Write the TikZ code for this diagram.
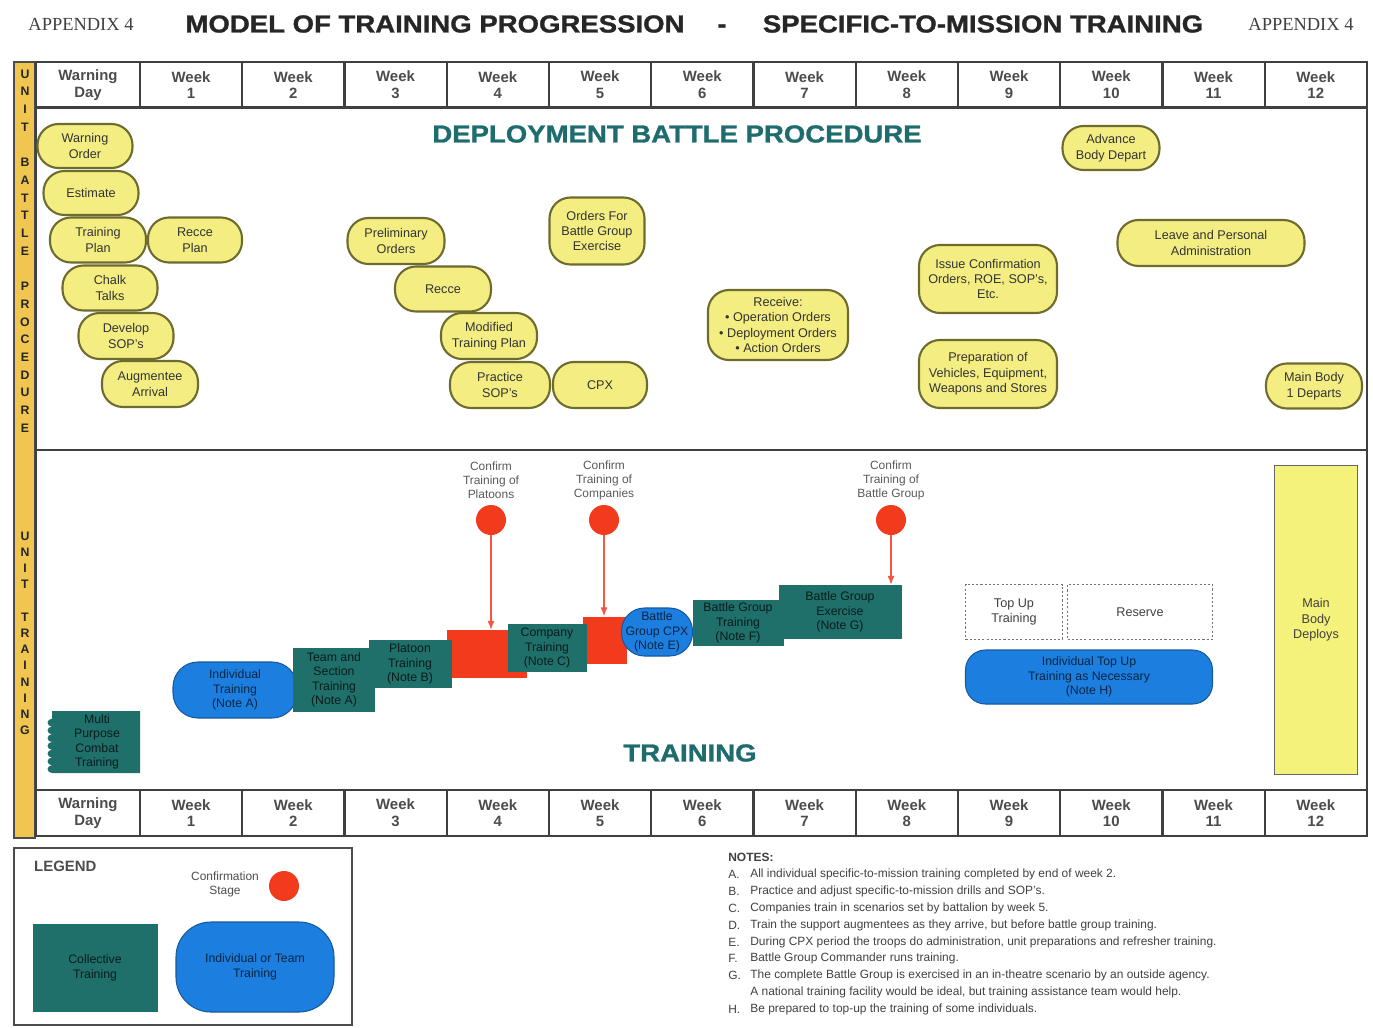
\documentclass[tikz,border=0pt]{standalone}
\usepackage{fontspec}
\setmainfont{Liberation Sans}
\newfontfamily\serifap{Liberation Serif}
\newfontfamily\heavyfont[FakeStretch=1.12, BoldFeatures={FakeBold=1.2}]{Liberation Sans}
\usetikzlibrary{positioning,arrows.meta,decorations.pathmorphing}
\definecolor{bpyellow}{HTML}{F4EE82}
\definecolor{bpedge}{HTML}{6E6B2E}
\definecolor{colteal}{HTML}{1F6F6B}
\definecolor{indblue}{HTML}{1C7FE0}
\definecolor{confred}{HTML}{F23B1D}
\definecolor{bargold}{HTML}{F0C550}
\definecolor{titleteal}{HTML}{1E6C6E}
\definecolor{mainyellow}{HTML}{F5F27C}
\tikzset{
  >=Latex,
  boxsize/.style 2 args={minimum width=#1*0.02cm, minimum height=#2*0.02cm},
  appx/.style={font=\serifap\fontsize{10.5}{12}\selectfont, text=black!75},
  headline/.style={font=\heavyfont\bfseries\fontsize{14}{16}\selectfont, text=black!85, inner sep=0pt},
  bigteal/.style={font=\heavyfont\bfseries\fontsize{14}{16}\selectfont, text=titleteal, inner sep=0pt},
  weekhead/.style={align=center, font=\bfseries\fontsize{8.5}{9.5}\selectfont, text=black!70},
  tablerule/.style={draw=black!75, line width=1.2pt},
  barletter/.style={font=\bfseries\fontsize{7}{7}\selectfont, text=black!85, inner sep=0pt},
  bubble/.style={draw=bpedge, line width=1.2pt, fill=bpyellow, rounded corners=0.42cm,
    align=center, inner sep=1pt, font=\fontsize{7.2}{8.8}\selectfont, text=black!80},
  colbox/.style={fill=colteal, align=center, inner sep=1pt,
    font=\fontsize{7}{8.2}\selectfont, text=colteal!25!black},
  indbox/.style={fill=indblue, draw=indblue!70!black, line width=0.6pt, align=center,
    inner sep=1pt, font=\fontsize{7}{8.2}\selectfont, text=indblue!30!black},
  redbox/.style={fill=confred, inner sep=0pt},
  confdot/.style={circle, fill=confred, minimum size=0.6cm, inner sep=0pt},
  confnote/.style={align=center, font=\fontsize{6.8}{8}\selectfont, text=black!65},
  confarrow/.style={draw=confred!85!white, line width=0.6pt, -{Latex[length=5pt,width=4pt]}},
  spare/.style={draw=black!55, dash pattern=on 1.2pt off 1.2pt, line width=0.9pt, align=center,
    font=\fontsize{7.2}{8.8}\selectfont, text=black!75},
  notetext/.style={anchor=west, font=\fontsize{6.8}{8}\selectfont, text=black!75, inner sep=0pt}
}
\begin{document}
\begin{tikzpicture}[x=0.02cm, y=-0.02cm]
\useasboundingbox (0,0) rectangle (1373,1028);
% heading
\node[appx] (app1) at (81,24) {APPENDIX 4};
\node[appx] (app2) at (1301,24) {APPENDIX 4};
\node[headline] (ttl1) at (435,24) {MODEL OF TRAINING PROGRESSION};
\node[headline, anchor=base] (ttldash) at (722,0 |- ttl1.base) {-};
\node[headline] (ttl2) at (983,24) {SPECIFIC-TO-MISSION TRAINING};

% side bar, panels and week rows
\draw[black!70, line width=0.8pt, fill=bargold] (14,62) rectangle (35,838);
\draw[tablerule] (36,107) rectangle (1367,450);
\draw[tablerule] (36,450) rectangle (1367,790);
\foreach \yy/\row in {62/top, 790/bot} {
  \draw[tablerule] (36,\yy) rectangle (1367,\yy+46);
  \node[weekhead] (\row0) at (88,\yy+23) {Warning\\Day};
  \foreach \i in {1,...,12} {
    \draw[tablerule] ({140+(\i-1)*102.25},\yy) -- ++(0,46);
    \node[weekhead] (\row\i) at ({191+(\i-1)*102.25},\yy+23) {Week\\\i};
  }
}
\foreach \ch/\n in {U/0,N/1,I/2,T/3,B/5,A/6,T/7,T/8,L/9,E/10,
                    P/12,R/13,O/14,C/15,E/16,D/17,U/18,R/19,E/20}
  \node[barletter] (ubp\n) at (25,74+17.7*\n) {\ch};
\foreach \ch/\n in {U/0,N/1,I/2,T/3,T/5,R/6,A/7,I/8,N/9,I/10,N/11,G/12}
  \node[barletter] (utr\n) at (25,536+16.2*\n) {\ch};

% battle procedure
\node[bigteal] (bptitle) at (677,134) {DEPLOYMENT BATTLE PROCEDURE};
\node[bubble, boxsize={95}{44}] (wo) at (85,146) {Warning\\Order};
\node[bubble, boxsize={95}{44}] (est) at (91,193) {Estimate};
\node[bubble, boxsize={96}{45}] (tp) at (98,240) {Training\\Plan};
\node[bubble, boxsize={94}{45}] (rp) at (195,240) {Recce\\Plan};
\node[bubble, boxsize={95}{45}] (ct) at (110,288) {Chalk\\Talks};
\node[bubble, boxsize={95}{46}] (ds) at (126,336) {Develop\\SOP's};
\node[bubble, boxsize={96}{46}] (aa) at (150,384) {Augmentee\\Arrival};
\node[bubble, boxsize={97}{46}] (po) at (396,241) {Preliminary\\Orders};
\node[bubble, boxsize={96}{45}] (rec) at (443,289) {Recce};
\node[bubble, boxsize={96}{46}] (mtp) at (489,336) {Modified\\Training Plan};
\node[bubble, boxsize={100}{46}] (ps) at (500,385) {Practice\\SOP's};
\node[bubble, boxsize={94}{46}] (cpx) at (600,385) {CPX};
\node[bubble, boxsize={95}{67}] (ofbg) at (597,231) {Orders For\\Battle Group\\Exercise};
\node[bubble, boxsize={140}{70}] (rcv) at (778,325) {Receive:\\\textbullet\ Operation Orders\\\textbullet\ Deployment Orders\\\textbullet\ Action Orders};
\node[bubble, boxsize={138}{68}] (ico) at (988,279) {Issue Confirmation\\Orders, ROE, SOP's,\\Etc.};
\node[bubble, boxsize={138}{68}] (pve) at (988,374) {Preparation of\\Vehicles, Equipment,\\Weapons and Stores};
\node[bubble, boxsize={97}{44}] (abd) at (1111,148) {Advance\\Body Depart};
\node[bubble, boxsize={187}{46}] (lpa) at (1211,243) {Leave and Personal\\Administration};
\node[bubble, boxsize={96}{45}] (mbd) at (1314,386) {Main Body\\1 Departs};

% training
\node[bigteal] (trtitle) at (690,753) {TRAINING};
\node[redbox, boxsize={80}{48}] (red1) at (487,654) {};
\node[redbox, boxsize={44}{47}] (red2) at (605,640) {};
\fill[colteal] (140,711) -- (140,773) -- (52,773)
  decorate[decoration={bumps, amplitude=0.9mm, segment length=3.1mm}] {-- (52,711)} -- cycle;
\node[colbox, boxsize={90}{62}, fill=none] (mpct) at (97,742) {Multi\\Purpose\\Combat\\Training};
\node[indbox, boxsize={124}{56}, rounded corners=0.5cm] (it) at (235,690) {Individual\\Training\\(Note A)};
\node[colbox, boxsize={82}{64}] (tst) at (334,680) {Team and\\Section\\Training\\(Note A)};
\node[colbox, boxsize={83}{48}] (plt) at (410,664) {Platoon\\Training\\(Note B)};
\node[colbox, boxsize={79}{48}] (cot) at (547,648) {Company\\Training\\(Note C)};
\node[indbox, boxsize={71}{48}, rounded corners=0.46cm] (bgcpx) at (657,632) {Battle\\Group CPX\\(Note E)};
\node[colbox, boxsize={91}{46}] (bgt) at (738,623) {Battle Group\\Training\\(Note F)};
\node[colbox, boxsize={123}{54}] (bge) at (840,612) {Battle Group\\Exercise\\(Note G)};
\node[spare, boxsize={97}{55}] (tut) at (1014,612) {Top Up\\Training};
\node[spare, boxsize={145}{55}] (res) at (1140,612) {Reserve};
\node[indbox, boxsize={247}{54}, rounded corners=0.4cm] (itu) at (1089,677) {Individual Top Up\\Training as Necessary\\(Note H)};
\node[draw=black!60, line width=0.8pt, fill=mainyellow, boxsize={83}{309}, align=center,
  font=\fontsize{7.2}{8.8}\selectfont, text=black!75] (mbdep) at (1316,620) {Main\\Body\\Deploys};

% confirmation stages
\foreach \k/\xx/\txt/\dest in {cp1/491/Platoons/red1, cp2/604/Companies/red2, cp3/891/Battle Group/bge} {
  \node[confnote] (\k note) at (\xx,480) {Confirm\\Training of\\\txt};
  \node[confdot] (\k) at (\xx,520) {};
  \draw[confarrow] (\k) -- (\k |- \dest.north);
}

% legend
\draw[black!70, line width=1pt] (14,848) rectangle (352,1025);
\node[font=\bfseries\fontsize{8.5}{10}\selectfont, text=black!70, anchor=west] (lgd) at (28,866) {LEGEND};
\node[confnote, text=black!70] (lgdstage) at (225,884) {Confirmation\\Stage};
\node[confdot] (lgddot) at (284,886) {};
\node[colbox, boxsize={125}{88}] (lgdcol) at (95,968) {Collective\\Training};
\node[indbox, boxsize={158}{90}, rounded corners=0.7cm] (lgdind) at (255,967) {Individual or Team\\Training};

% notes
\node[notetext, font=\bfseries\fontsize{6.8}{8}\selectfont] (nhead) at (728,857) {NOTES:};
\foreach \ltr/\yy/\txt in {
  A./874/{All individual specific-to-mission training completed by end of week 2.},
  B./891/{Practice and adjust specific-to-mission drills and SOP's.},
  C./908/{Companies train in scenarios set by battalion by week 5.},
  D./925/{Train the support augmentees as they arrive, but before battle group training.},
  E./942/{During CPX period the troops do administration, unit preparations and refresher training.},
  F./958/{Battle Group Commander runs training.},
  G./975/{The complete Battle Group is exercised in an in-theatre scenario by an outside agency.},
  /992/{A national training facility would be ideal, but training assistance team would help.},
  H./1009/{Be prepared to top-up the training of some individuals.}} {
  \node[notetext] (nl\yy) at (728,\yy) {\ltr};
  \node[notetext] (nt\yy) at (750,\yy) {\txt};
}
\end{tikzpicture}
\end{document}
